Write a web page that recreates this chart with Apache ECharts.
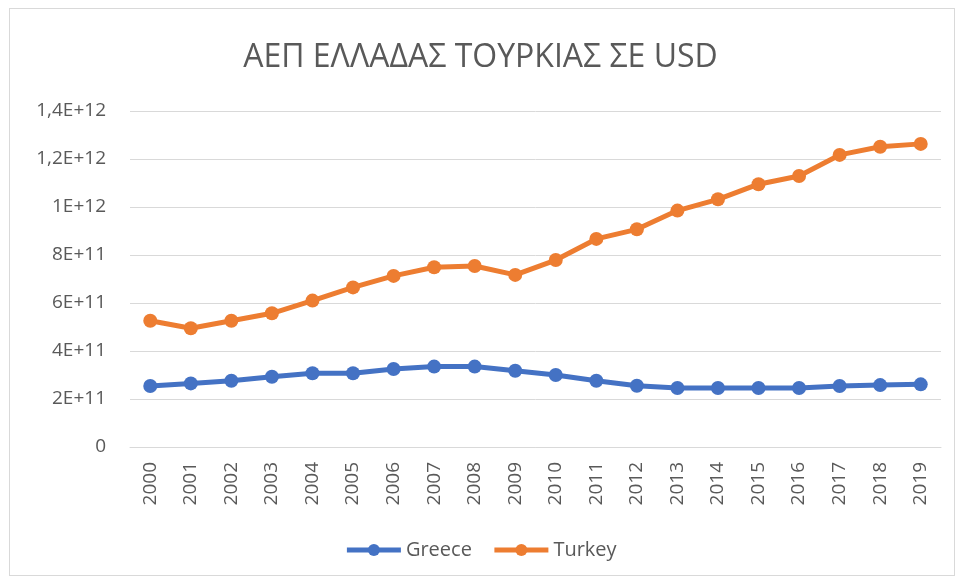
<!DOCTYPE html>
<html>
<head>
<meta charset="utf-8">
<script src="https://cdn.jsdelivr.net/npm/echarts@6/dist/echarts.min.js"></script>
<style>
  html, body { margin: 0; padding: 0; background: #fff; }
  #frame { position: absolute; left: 9px; top: 8px; width: 946px; height: 568px; border: 1px solid #d9d9d9; box-sizing: border-box; }
  #chart { width: 961px; height: 581px; }
</style>
</head>
<body>
<div id="frame"></div>
<div id="chart"></div>
<script>
const years = ['2000', '2001', '2002', '2003', '2004', '2005', '2006', '2007', '2008', '2009',
  '2010', '2011', '2012', '2013', '2014', '2015', '2016', '2017', '2018', '2019']

// GDP in USD
const greece = [2.54e11, 2.65e11, 2.76e11, 2.93e11, 3.07e11, 3.07e11, 3.25e11, 3.35e11, 3.35e11, 3.18e11,
  3.00e11, 2.76e11, 2.55e11, 2.46e11, 2.46e11, 2.46e11, 2.46e11, 2.54e11, 2.58e11, 2.61e11]
const turkey = [5.26e11, 4.95e11, 5.26e11, 5.57e11, 6.10e11, 6.65e11, 7.13e11, 7.49e11, 7.54e11, 7.17e11,
  7.79e11, 8.67e11, 9.07e11, 9.85e11, 10.32e11, 10.95e11, 11.29e11, 12.17e11, 12.51e11, 12.63e11]

const tickValues = [0, 2e11, 4e11, 6e11, 8e11, 1e12, 1.2e12, 1.4e12]
const tickLabels = ['0', '2E+11', '4E+11', '6E+11', '8E+11', '1E+12', '1,2E+12', '1,4E+12']

const font = "'Open Sans', 'Noto Sans', sans-serif"
const textColor = '#595959'

const chart = echarts.init(document.getElementById('chart'))

const option = {
  animation: false,
  title: {
    text: 'ΑΕΠ ΕΛΛΑΔΑΣ ΤΟΥΡΚΙΑΣ ΣΕ USD',
    left: 'center',
    top: 37,
    textStyle: { fontFamily: font, fontSize: 32, fontWeight: 'normal', color: textColor }
  },
  legend: {
    bottom: 16,
    left: 'center',
    itemWidth: 54,
    itemHeight: 15,
    itemGap: 20,
    lineStyle: { width: 5 },
    textStyle: { fontFamily: font, fontSize: 20, color: textColor },
    data: ['Greece', 'Turkey']
  },
  grid: {
    left: 130,
    right: 20,
    top: 111,
    bottom: 134
  },
  xAxis: {
    type: 'category',
    data: years,
    boundaryGap: true,
    axisLine: { lineStyle: { color: '#d9d9d9', width: 1 } },
    axisTick: { show: false },
    axisLabel: {
      rotate: 90,
      margin: 15,
      fontFamily: font,
      fontSize: 19,
      color: textColor
    }
  },
  yAxis: {
    type: 'value',
    min: 0,
    max: 1.4e12,
    interval: 2e11,
    axisLine: { show: false },
    axisTick: { show: false },
    splitLine: { lineStyle: { color: '#d9d9d9', width: 1 } },
    axisLabel: {
      margin: 24,
      fontFamily: font,
      fontSize: 19,
      color: textColor,
      formatter: v => {
        const i = tickValues.findIndex(t => Math.abs(t - v) < 1)
        return i >= 0 ? tickLabels[i] : ''
      }
    }
  },
  series: [
    {
      name: 'Greece',
      type: 'line',
      data: greece,
      symbol: 'circle',
      symbolSize: 14,
      color: '#4472c4',
      lineStyle: { width: 5, color: '#4472c4' },
      itemStyle: { color: '#4472c4' }
    },
    {
      name: 'Turkey',
      type: 'line',
      data: turkey,
      symbol: 'circle',
      symbolSize: 14,
      color: '#ed7d31',
      lineStyle: { width: 5, color: '#ed7d31' },
      itemStyle: { color: '#ed7d31' }
    }
  ]
}

chart.setOption(option)
window.addEventListener('resize', () => chart.resize())
</script>
</body>
</html>
